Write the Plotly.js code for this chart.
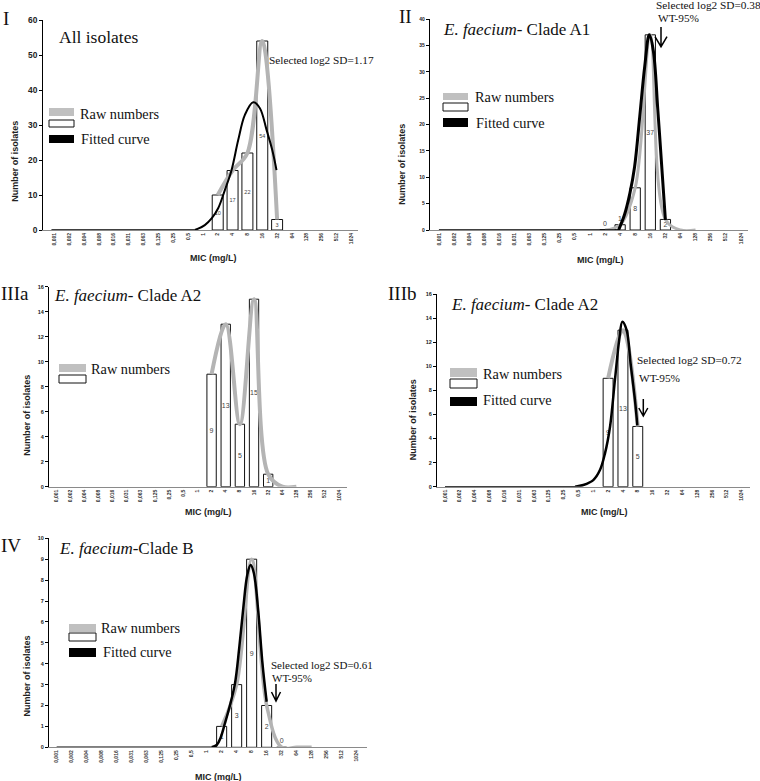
<!DOCTYPE html>
<html><head><meta charset="utf-8">
<script src="https://cdn.plot.ly/plotly-3.0.1.min.js"></script>
<style>html,body{margin:0;padding:0;background:#fff}#chart{width:760px;height:781px}</style>
</head><body><div id="chart"></div>
<script>
// ---- data ----
const micLabels = ["0,001","0,002","0,004","0,008","0,016","0,031","0,063","0,125","0,25","0,5","1","2","4","8","16","32","64","128","256","512","1024"];

// Panel I - All isolates
const barMicI = ["2","4","8","16","32"];
const barCountI = [10,17,22,54,3];
const rawMicI = ["2","4","8","16","32"];
const rawCountI = [10,17,22,54,3];
const fitPosI = [-0.2, 9.46, 10.13, 10.59, 11.03, 11.48, 11.93, 12.38, 12.83, 13.39, 13.84, 14.29, 14.67, 14.96];
const fitValI = [0, 0, 1.4, 3.3, 6.2, 11.4, 17.1, 25.7, 32.9, 36.5, 34.8, 28.6, 22.9, 17.1];

// Panel II - Clade A1
const barMicII = ["2","4","8","16","32"];
const barCountII = [0,1,8,37,2];
const rawMicII = ["2","4","8","16","32","64","128"];
const rawCountII = [0,1,8,37,2,0,0];
const fitPosII = [0, 11.9, 12.3, 12.65, 12.96, 13.3, 13.63, 13.93, 14.2, 14.5, 14.79, 15.0];
const fitValII = [0, 0, 3, 7, 12, 21.5, 31, 37, 34, 22.7, 10.7, 1.9];

// Panel IIIa - Clade A2 raw
const barMicIIIa = ["2","4","8","16","32"];
const barCountIIIa = [9,13,5,15,1];
const rawMicIIIa = ["2","4","8","16","32","64","128"];
const rawCountIIIa = [9,13,5,15,1,0,0];

// Panel IIIb - Clade A2 fitted
const barMicIIIb = ["2","4","8"];
const barCountIIIb = [9,13,5];
const rawMicIIIb = ["2","4","8"];
const rawCountIIIb = [9,13,5];
const fitPosIIIb = [0, 8.77, 9.33, 10.0, 10.45, 10.79, 11.13, 11.46, 11.75, 11.96, 12.25, 12.52, 12.81, 12.97];
const fitValIIIb = [0, 0, 0.14, 0.55, 1.38, 2.77, 4.98, 8.86, 12.2, 13.7, 13.0, 10.2, 7.2, 5.1];

// Panel IV - Clade B
const barMicIV = ["2","4","8","16","32"];
const barCountIV = [1,3,9,2,0];
const rawMicIV = ["2","4","8","16","32","64","128"];
const rawCountIV = [1,3,9,2,0,0,0];
const fitPosIV = [0, 10.33, 10.67, 10.93, 11.22, 11.55, 11.89, 12.17, 12.44, 12.71, 12.93, 13.15, 13.44, 13.73, 14.0];
const fitValIV = [0, 0, 0.11, 0.46, 1.15, 2.0, 3.06, 4.74, 6.65, 8.25, 8.72, 8.33, 6.5, 3.94, 2.18];

// ---- layout helpers ----
const W = 760, H = 781;
const px = x => x / W;
const py = y => 1 - y / H;
const idx = m => micLabels.indexOf(m);
const SERIF = "Liberation Serif, Times New Roman, serif";
const SANS = "Liberation Sans, Arial, sans-serif";
const GRAY = "#b4b4b4";

const panels = [
  {k:"", l:43.3, r:358, top:20, bot:230, xr:[-0.75,20.45], ymax:60, dtick:10, yfs:8.4, bw:0.74, tfs:5.5, gw:4, kw:2,
   bars:[barMicI,barCountI], raw:[rawMicI,rawCountI], fit:[fitPosI,fitValI]},
  {k:"2", l:430, r:748, top:19, bot:230, xr:[-0.59,20.47], ymax:40, dtick:5, yfs:5, bw:0.68, tfs:7, gw:3, kw:3,
   bars:[barMicII,barCountII], raw:[rawMicII,rawCountII], fit:[fitPosII,fitValII]},
  {k:"3", l:49.3, r:346.7, top:286.7, bot:486.7, xr:[-0.47,20.55], ymax:16, dtick:2, yfs:5.5, bw:0.66, tfs:7, gw:4, kw:2.5,
   bars:[barMicIIIa,barCountIIIa], raw:[rawMicIIIa,rawCountIIIa], fit:null},
  {k:"4", l:437.3, r:750, top:294, bot:486.7, xr:[-0.52,20.57], ymax:16, dtick:2, yfs:5.5, bw:0.67, tfs:7, gw:4, kw:2.5,
   bars:[barMicIIIb,barCountIIIb], raw:[rawMicIIIb,rawCountIIIb], fit:[fitPosIIIb,fitValIIIb]},
  {k:"5", l:49.3, r:366.7, top:538.3, bot:747.3, xr:[-0.49,20.67], ymax:10, dtick:1, yfs:5.5, bw:0.67, tfs:7, gw:3.5, kw:2.5,
   bars:[barMicIV,barCountIV], raw:[rawMicIV,rawCountIV], fit:[fitPosIV,fitValIV]}
];

const traces = [];
const layout = {
  width: W, height: H, margin: {l:0, r:0, t:0, b:0},
  paper_bgcolor: "#fff", plot_bgcolor: "rgba(0,0,0,0)",
  showlegend: false, annotations: [], shapes: []
};

panels.forEach(p => {
  const xa = "x" + p.k, ya = "y" + p.k;
  const pxPerUnit = (p.bot - p.top) / p.ymax;
  // bars
  traces.push({
    type: "bar", xaxis: xa, yaxis: ya,
    x: p.bars[0].map(idx), y: p.bars[1], width: p.bw,
    marker: {color: "#fff", line: {color: "#111", width: 1}},
    text: p.bars[1].map(String),
    textposition: p.bars[1].map(v => v * pxPerUnit < p.tfs + 2 ? "outside" : "inside"),
    textangle: 0, constraintext: "none", insidetextanchor: "middle", cliponaxis: false,
    insidetextfont: {family: SANS, size: p.tfs, color: "#444"},
    outsidetextfont: {family: SANS, size: p.tfs, color: "#444"},
    hoverinfo: "skip"
  });
  // raw numbers line
  traces.push({
    type: "scatter", mode: "lines", xaxis: xa, yaxis: ya,
    x: p.raw[0].map(idx), y: p.raw[1],
    line: {color: GRAY, width: p.gw, shape: "spline", smoothing: 1},
    hoverinfo: "skip"
  });
  // fitted curve: flat zero part (linear) + curved part (spline)
  if (p.fit) {
    const [fx, fy] = p.fit;
    let s = 0;
    while (s + 1 < fy.length && fy[s + 1] === 0) s++;
    traces.push({
      type: "scatter", mode: "lines", xaxis: xa, yaxis: ya,
      x: fx.slice(0, s + 1), y: fy.slice(0, s + 1),
      line: {color: "#000", width: 1.5}, hoverinfo: "skip"
    });
    traces.push({
      type: "scatter", mode: "lines", xaxis: xa, yaxis: ya,
      x: fx.slice(s), y: fy.slice(s),
      line: {color: "#000", width: p.kw, shape: "spline", smoothing: 1},
      hoverinfo: "skip"
    });
  }
  layout["xaxis" + p.k] = {
    domain: [px(p.l), px(p.r)], range: p.xr, anchor: ya,
    tickmode: "array", tickvals: micLabels.map((_, i) => i), ticktext: micLabels,
    tickangle: -90, tickfont: {family: SANS, size: 5, color: "#333", weight: "bold"},
    showline: true, linecolor: "#8a8a8a", linewidth: 1,
    showgrid: false, zeroline: false, ticks: "", fixedrange: true
  };
  layout["yaxis" + p.k] = {
    domain: [py(p.bot), py(p.top)], range: [0, p.ymax], anchor: xa, dtick: p.dtick,
    tickfont: {family: SANS, size: p.yfs, color: "#222", weight: "bold"},
    showline: true, linecolor: "#000", linewidth: 1.3,
    ticks: "outside", ticklen: 3, tickcolor: "#000", tickwidth: 1,
    showgrid: false, zeroline: false, fixedrange: true
  };
});

// ---- text helpers ----
function txt(text, left, cy, size, family, opts) {
  layout.annotations.push(Object.assign({
    text: text, xref: "paper", yref: "paper", x: px(left), y: py(cy),
    xanchor: "left", yanchor: "middle", showarrow: false,
    font: {family: family || SERIF, size: size, color: "#111"}
  }, opts || {}));
}
function ctr(text, cx, cy, size, angle) {
  layout.annotations.push({
    text: text, xref: "paper", yref: "paper", x: px(cx), y: py(cy),
    xanchor: "center", yanchor: "middle", showarrow: false, textangle: angle || 0,
    font: {family: SANS, size: size, color: "#222", weight: "bold"}
  });
}
function rect(x0, y0, x1, y1, fill, stroke) {
  layout.shapes.push({
    type: "rect", xref: "paper", yref: "paper",
    x0: px(x0), x1: px(x1), y0: py(y1), y1: py(y0),
    fillcolor: fill, line: {color: stroke || fill, width: stroke ? 1 : 0}
  });
}
function arrow(x, y0, y1, hw, hh) {
  layout.shapes.push({
    type: "path", xref: "paper", yref: "paper",
    path: `M ${px(x)},${py(y0)} L ${px(x)},${py(y1)} M ${px(x - hw)},${py(y1 - hh)} L ${px(x)},${py(y1)} L ${px(x + hw)},${py(y1 - hh)}`,
    line: {color: "#000", width: 1.5}
  });
}

// panel numerals
txt("I", 1, 19, 19);
txt("II", 397, 16, 19);
txt("IIIa", -1, 294, 19);
txt("IIIb", 386, 293, 19);
txt("IV", -1, 545, 19);

// panel titles
txt("All isolates", 57, 37, 17.5);
txt("<i>E. faecium</i>- Clade A1", 441, 30, 17);
txt("<i>E. faecium</i>- Clade A2", 52, 295, 17);
txt("<i>E. faecium</i>- Clade A2", 449, 304, 17);
txt("<i>E. faecium</i>-Clade B", 57, 548, 17);

// legends
function legend(gx0, gx1, gy0, gy1, wy0, wy1, rawLeft, rawCy, fit) {
  rect(gx0, gy0, gx1, gy1, "#c0c0c0");
  rect(gx0, wy0, gx1, wy1, "#fff", "#111");
  txt("Raw numbers", rawLeft, rawCy, 14.3);
  if (fit) {
    rect(gx0, fit[0], gx1, fit[1], "#000");
    txt("Fitted curve", fit[2], fit[3], 14.3);
  }
}
legend(49, 74, 108, 116, 120, 127, 78, 114, [135, 143, 79, 139]);
legend(443, 468, 93, 100, 103, 111, 473, 97, [118, 127, 474, 123]);
legend(59, 86, 364, 372, 375, 383, 89, 369, null);
legend(450, 477, 368, 377, 379, 388, 481, 374, [397, 406, 481, 400]);
legend(69, 96, 624, 632, 633, 641, 99, 628, [648, 657, 101, 652]);

// SD / WT annotations
txt("Selected log2 SD=1.17", 267, 60, 11.3);
txt("Selected log2 SD=0.38", 654, 5, 11.3);
txt("WT-95%", 656, 18, 11.3);
arrow(661, 27, 46.7, 6, 10);
txt("Selected log2 SD=0.72", 635, 360, 11.3);
txt("WT-95%", 637, 378, 11.3);
arrow(643.3, 399, 416, 4.5, 8);
txt("Selected log2 SD=0.61", 269, 665, 11);
txt("WT-95%", 270, 678, 11);
arrow(276, 684, 701, 4.5, 9);

// axis titles
ctr("Number of isolates", 15, 161.7, 9, -90);
ctr("Number of isolates", 401.7, 164, 9, -90);
ctr("Number of isolates", 26.7, 415, 9, -90);
ctr("Number of isolates", 413.3, 420, 9, -90);
ctr("Number of isolates", 26.7, 675.7, 9, -90);
ctr("MIC (mg/L)", 213, 258.3, 9);
ctr("MIC (mg/L)", 600.5, 260, 9);
ctr("MIC (mg/L)", 208.3, 511.7, 9);
ctr("MIC (mg/L)", 604, 511.7, 9);
ctr("MIC (mg/L)", 218.3, 776.7, 9);

Plotly.newPlot("chart", traces, layout, {staticPlot: true, displayModeBar: false});
</script>
</body></html>
